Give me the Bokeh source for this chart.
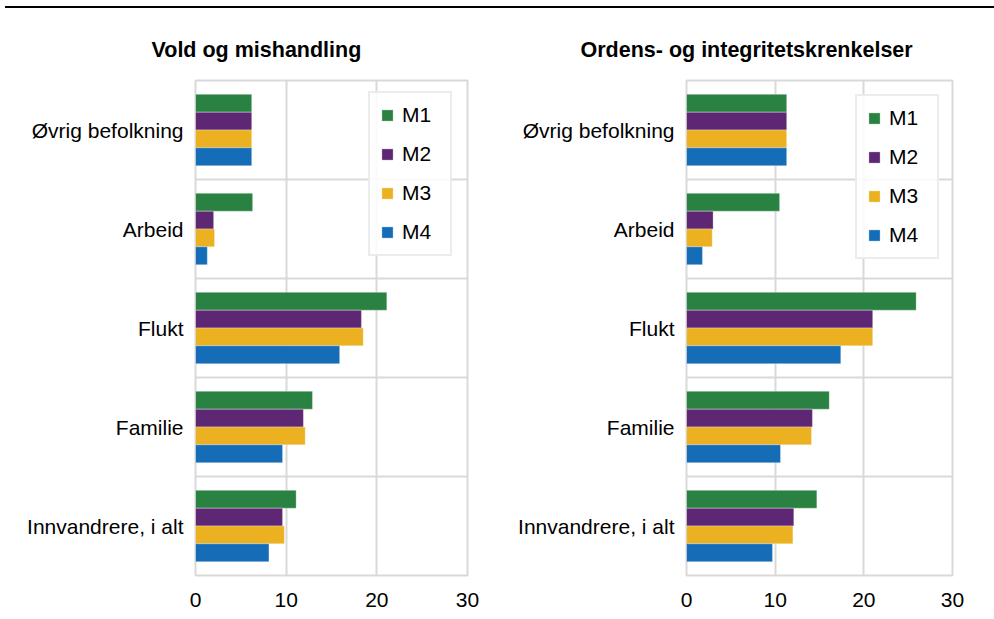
from bokeh.plotting import figure
from bokeh.models import Range1d, FixedTicker, Div
from bokeh.layouts import column, row
from bokeh.embed import file_html
from bokeh.resources import INLINE

categories = ["Øvrig befolkning", "Arbeid", "Flukt", "Familie", "Innvandrere, i alt"]
series = ["M1", "M2", "M3", "M4"]
colors = ["#2a8242", "#5e2773", "#ebb120", "#166db7"]

vold_m1 = [6.2, 6.3, 21.1, 12.9, 11.1]
vold_m2 = [6.2, 2.0, 18.3, 11.9, 9.6]
vold_m3 = [6.2, 2.1, 18.5, 12.1, 9.8]
vold_m4 = [6.2, 1.3, 15.9, 9.6, 8.1]

orden_m1 = [11.3, 10.5, 25.9, 16.1, 14.7]
orden_m2 = [11.3, 3.0, 21.0, 14.2, 12.1]
orden_m3 = [11.3, 2.9, 21.0, 14.1, 12.0]
orden_m4 = [11.3, 1.8, 17.4, 10.6, 9.7]

x_ticks = [0, 10, 20, 30]

FONT = "Liberation Sans"
GRID = "#d9d9d9"
BAR_H = 0.18


def make_panel(title, values, width, min_left, min_right, title_offset, legend_loc):
    n = len(categories)
    p = figure(width=width, height=611, output_backend="svg", toolbar_location=None,
               x_range=Range1d(x_ticks[0], x_ticks[-1]), y_range=Range1d(0, n),
               min_border_left=min_left, min_border_right=min_right,
               min_border_top=72, min_border_bottom=44)
    centers = [n - 0.5 - i for i in range(n)]
    for j, (name, vals, col) in enumerate(zip(series, values, colors)):
        off = (len(series) - 1) / 2 - j
        ys = [c + off * BAR_H for c in centers]
        p.hbar(y=ys, right=vals, left=0, height=BAR_H, fill_color=col,
               line_color="white", line_width=0.6, line_alpha=0.5, legend_label=name)

    p.title.text = title
    p.title.text_font = FONT
    p.title.text_font_size = "21.5px"
    p.title.text_font_style = "bold"
    p.title.text_color = "black"
    p.title.align = "left"
    p.title.offset = title_offset
    p.title.standoff = 38

    p.xaxis.ticker = FixedTicker(ticks=x_ticks)
    p.yaxis.ticker = FixedTicker(ticks=centers)
    p.yaxis.major_label_overrides = {c: lab for c, lab in zip(centers, categories)}
    for ax in (p.xaxis, p.yaxis):
        ax.axis_line_color = None
        ax.major_tick_line_color = None
        ax.minor_tick_line_color = None
        ax.major_tick_out = 0
        ax.major_tick_in = 0
        ax.major_label_text_font = FONT
        ax.major_label_text_font_size = "21px"
        ax.major_label_text_color = "black"
    p.yaxis.major_label_standoff = 12
    p.xaxis.major_label_standoff = 17

    p.xgrid.ticker = FixedTicker(ticks=x_ticks)
    p.ygrid.ticker = FixedTicker(ticks=list(range(n + 1)))
    for g in (p.xgrid, p.ygrid):
        g.grid_line_color = GRID
        g.grid_line_width = 2
    p.outline_line_color = GRID
    p.outline_line_width = 2
    p.background_fill_color = "white"
    p.border_fill_color = "white"

    lg = p.legend[0]
    lg.location = legend_loc
    lg.label_text_font = FONT
    lg.label_text_font_size = "21px"
    lg.label_text_color = "black"
    lg.glyph_width = 14
    lg.glyph_height = 14
    lg.label_height = 20
    lg.label_width = 38
    lg.label_standoff = 8
    lg.spacing = 15
    lg.padding = 10
    lg.margin = 0
    lg.border_line_color = GRID
    lg.border_line_width = 2
    lg.background_fill_alpha = 0.85
    return p


p1 = make_panel("Vold og mishandling", [vold_m1, vold_m2, vold_m3, vold_m4],
                497, 195, 30, -44, (173, 319))
p2 = make_panel("Ordens- og integritetskrenkelser", [orden_m1, orden_m2, orden_m3, orden_m4],
                496, 189, 41, -106, (169, 316))

line = Div(text="", width=989, height=2, margin=(6, 0, 0, 5),
           styles={"background-color": "black"})
layout = column(line, row(p1, p2))

open("out.html", "w").write(file_html(layout, INLINE))
